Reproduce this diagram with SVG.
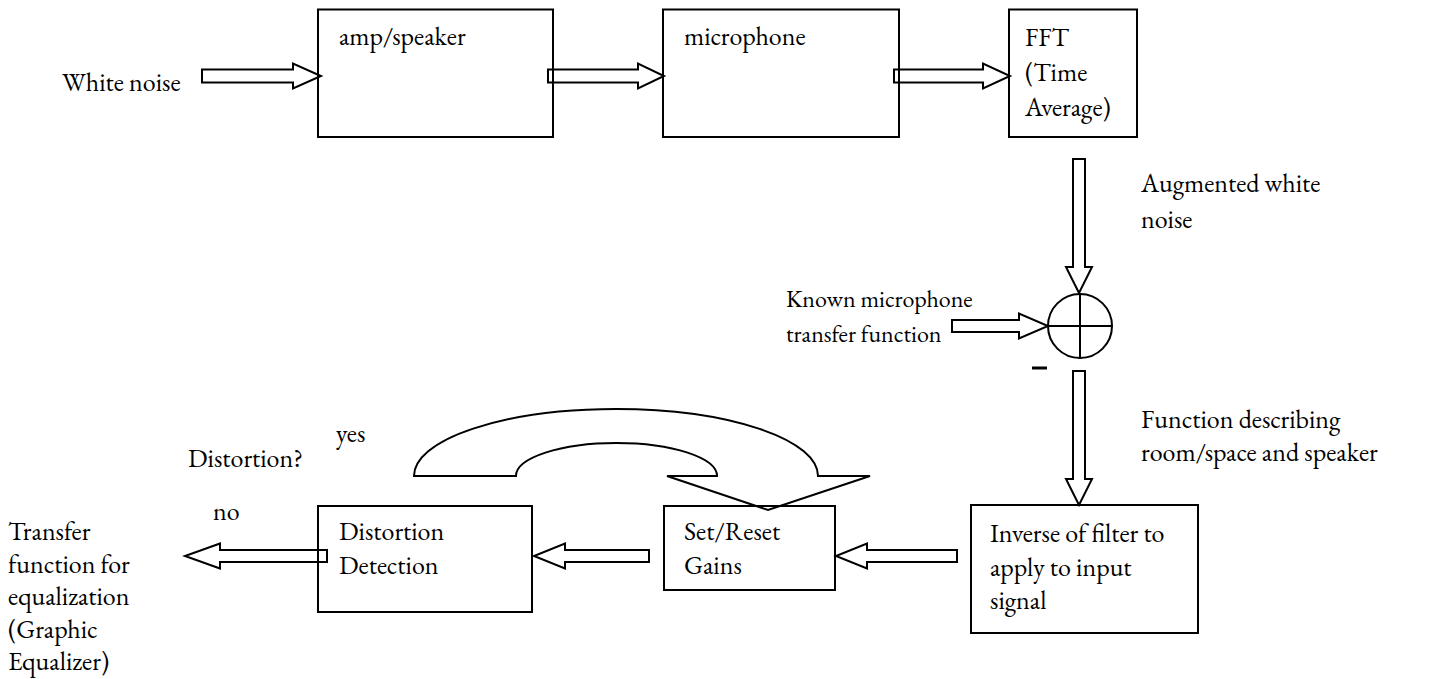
<svg xmlns="http://www.w3.org/2000/svg" width="1432" height="679" viewBox="0 0 1432 679">
  <style>
    text { font-family: "EB Garamond", "Liberation Serif", serif; font-size: 26px; fill: #000; }
    .label-small { font-size: 24px; }
    .box { fill: none; stroke: #000; stroke-width: 2; }
    .arrow { fill: #fff; stroke: #000; stroke-width: 2; stroke-linejoin: miter; }
    .line { fill: none; stroke: #000; stroke-width: 2; }
  </style>

  <!-- hollow block arrows between the stages -->
  <g id="connectors">
    <!-- white noise -> amp/speaker -->
    <polygon class="arrow" points="202,69.5 293,69.5 293,63.5 321,76 293,88.5 293,82.5 202,82.5"/>
    <!-- amp/speaker -> microphone -->
    <polygon class="arrow" points="548,69.5 638,69.5 638,63.5 664,76 638,88.5 638,82.5 548,82.5"/>
    <!-- microphone -> FFT -->
    <polygon class="arrow" points="894,69.5 983,69.5 983,63.5 1010,76 983,88.5 983,82.5 894,82.5"/>
    <!-- FFT -> summing junction -->
    <polygon class="arrow" points="1073,159 1085,159 1085,267 1092,267 1079,293 1066,267 1073,267"/>
    <!-- known microphone transfer function -> summing junction -->
    <polygon class="arrow" points="952,320 1019,320 1019,313.5 1048,326 1019,338.5 1019,332 952,332"/>
    <!-- summing junction -> inverse filter -->
    <polygon class="arrow" points="1073,371 1085,371 1085,479 1092,479 1079,505 1066,479 1073,479"/>
    <!-- inverse filter -> set/reset gains -->
    <polygon class="arrow" points="957,550 867,550 867,543.5 836,556 867,568.5 867,562 957,562"/>
    <!-- set/reset gains -> distortion detection -->
    <polygon class="arrow" points="649,550 565,550 565,543.5 534,556 565,568.5 565,562 649,562"/>
    <!-- distortion detection -> output -->
    <polygon class="arrow" points="327,550 220,550 220,543.5 185,556 220,568.5 220,562 327,562"/>
    <!-- "yes" loop back to set/reset gains -->
    <path class="arrow" d="M414,476 A202,67 0 0 1 818,476 L870,476 L768,510 L667,476 L717,476 A100.5,33 0 0 0 516,476 Z"/>
  </g>

  <g id="white-noise">
    <text x="62" y="91">White noise</text>
  </g>

  <g id="amp-speaker">
    <rect class="box" x="318" y="9.5" width="235" height="127.5"/>
    <text x="339" y="45">amp/speaker</text>
  </g>

  <g id="microphone">
    <rect class="box" x="663" y="9.5" width="236" height="127.5"/>
    <text x="684" y="45">microphone</text>
  </g>

  <g id="fft">
    <rect class="box" x="1009" y="9.5" width="128" height="127.5"/>
    <text x="1025" y="46">FFT</text>
    <text x="1025" y="81">(Time</text>
    <text x="1025" y="116">Average)</text>
  </g>

  <g id="augmented-label">
    <text x="1141" y="192">Augmented white</text>
    <text x="1141" y="228">noise</text>
  </g>

  <g id="known-mic-label">
    <text class="label-small" x="786" y="307">Known microphone</text>
    <text class="label-small" x="786" y="342">transfer function</text>
  </g>

  <g id="summing-junction">
    <circle class="line" cx="1080" cy="326" r="32"/>
    <line class="line" x1="1080" y1="294" x2="1080" y2="358"/>
    <line class="line" x1="1048" y1="326" x2="1112" y2="326"/>
    <line stroke="#000" stroke-width="3" x1="1032" y1="368" x2="1047" y2="368"/>
  </g>

  <g id="room-label">
    <text x="1141" y="428">Function describing</text>
    <text x="1141" y="461">room/space and speaker</text>
  </g>

  <g id="inverse-filter">
    <rect class="box" x="971" y="505" width="227" height="128"/>
    <text x="990" y="542">Inverse of filter to</text>
    <text x="990" y="576">apply to input</text>
    <text x="990" y="609">signal</text>
  </g>

  <g id="set-reset-gains">
    <rect class="box" x="664" y="506" width="171" height="84"/>
    <text x="684" y="540">Set/Reset</text>
    <text x="684" y="574">Gains</text>
  </g>

  <g id="distortion-detection">
    <rect class="box" x="318" y="506" width="214" height="106"/>
    <text x="339" y="540">Distortion</text>
    <text x="339" y="574">Detection</text>
  </g>

  <g id="decision-labels">
    <text x="188" y="467">Distortion?</text>
    <text x="336" y="442">yes</text>
    <text x="213" y="520">no</text>
  </g>

  <g id="output-label">
    <text x="8" y="540">Transfer</text>
    <text x="8" y="573">function for</text>
    <text x="8" y="605">equalization</text>
    <text x="8" y="638">(Graphic</text>
    <text x="8" y="670">Equalizer)</text>
  </g>
</svg>
